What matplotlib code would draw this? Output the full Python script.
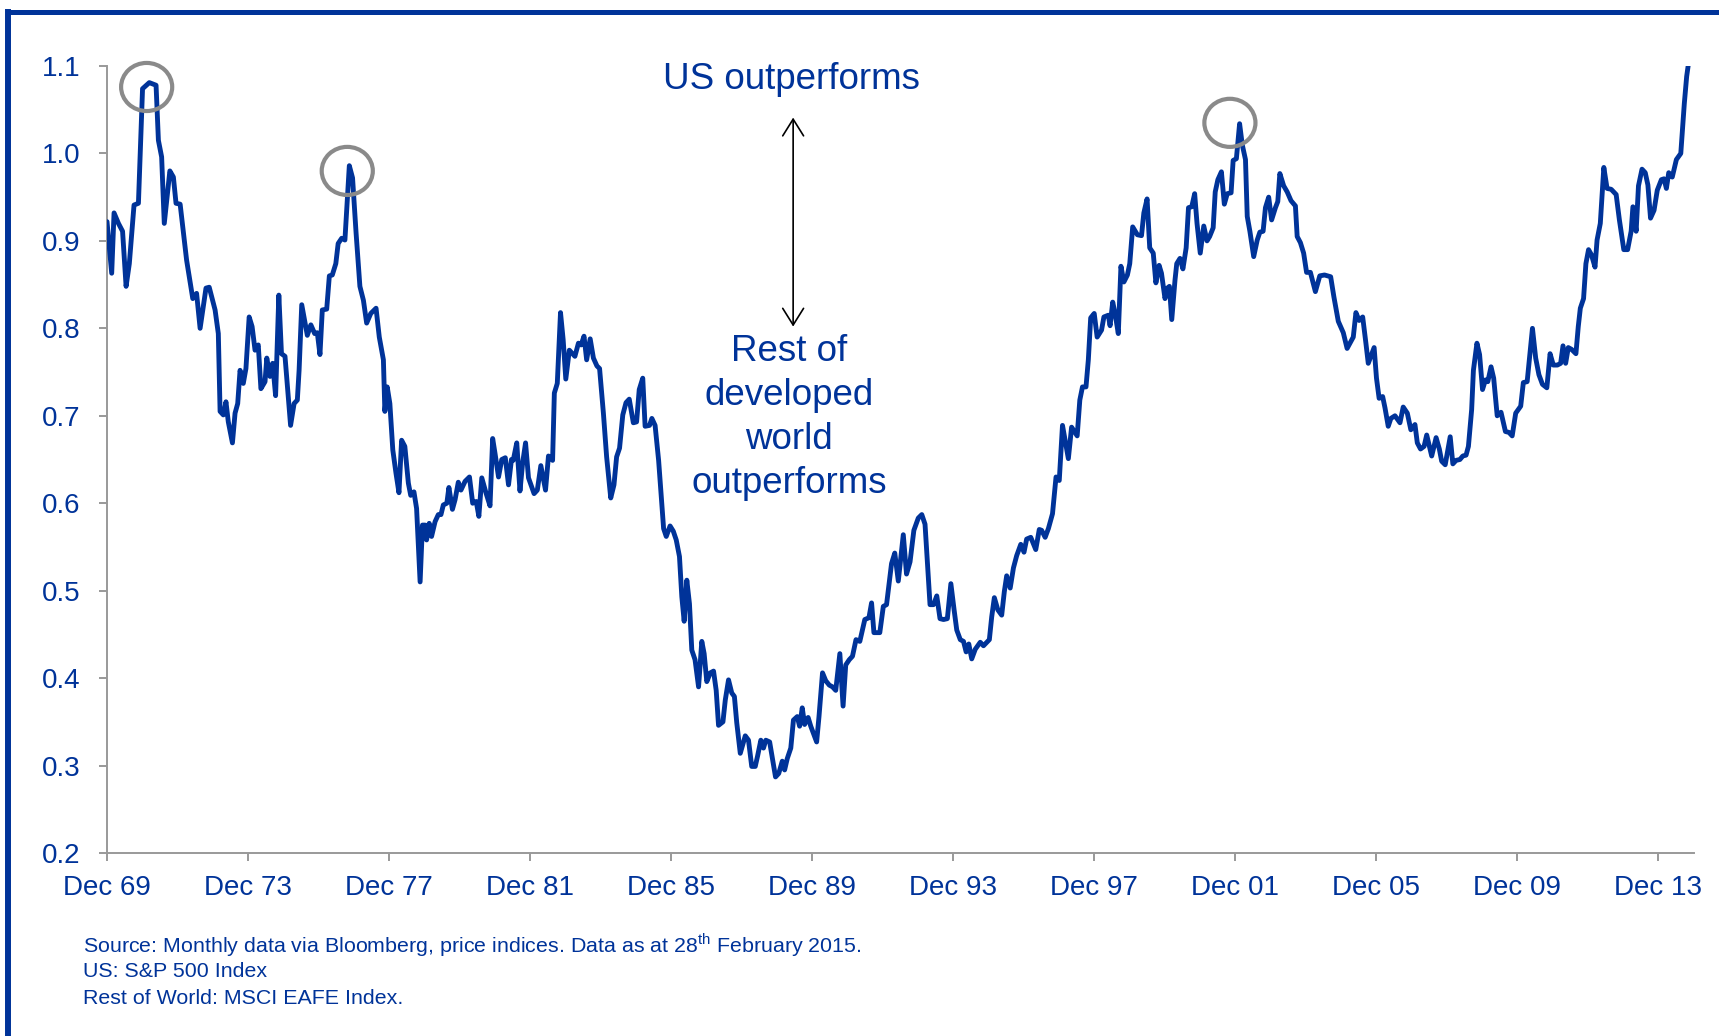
"""
US vs rest of developed world - relative price performance, monthly
"""

import matplotlib
matplotlib.use("Agg")
import matplotlib.pyplot as plt
from matplotlib.lines import Line2D
from matplotlib.patches import Ellipse

# months since Dec 1969
months = [
    0, 1.6, 2.4, 3.9, 5.3, 6.5, 7.6, 9.2, 10.7, 12.1, 14.4, 16.7, 17.5, 18.6,
    19.5, 21.4, 22.6, 23.5, 24.9, 27.1, 29.2, 30.5, 31.7, 33.7, 34.8, 36.8,
    37.9, 38.5, 39.6, 40.5, 41.3, 42.7, 43.6, 44.5, 45.3, 46.4, 47.3, 48.4,
    49.4, 50.4, 51.5, 52.4, 53.8, 54.4, 55.5, 56.4, 57.4, 58.5, 59.4, 60.6,
    62.5, 63.7, 64.8, 65.4, 66.3, 68.2, 69.4, 70.7, 71.6, 72.5, 73.3, 74.8,
    75.7, 76.7, 77.9, 78.7, 79.9, 81.0, 82.5, 83.6, 84.8, 86.1, 87.3, 88.4,
    89.8, 91.6, 92.7,
    94.1, 94.6, 95.4, 96.3, 97.3, 98.4, 99.4, 100.3, 101.4, 102.6, 103.4,
    104.5, 105.4, 106.6, 107.4, 108.3, 108.8, 109.7, 110.5, 111.7, 112.8,
    113.7, 114.5, 115.7, 116.4, 117.6, 118.5, 119.6, 120.5, 121.9, 123.4,
    124.5, 125.7, 126.6, 127.6, 129.1, 130.4, 131.3, 132.1, 133.3, 134.4,
    135.6, 136.7, 137.7, 138.3, 139.5, 140.6, 141.5, 142.5, 143.5, 145.4,
    146.5, 147.7, 149.3, 150.3, 151.7, 152.3, 153.3, 154.4, 155.3, 156.2,
    157.4, 159.3, 160.5, 161.4, 162.4, 163.3, 164.5, 165.6, 166.8, 167.7,
    169.0, 170.1, 171.5, 172.6, 173.5, 174.5, 175.6, 176.7, 177.8, 179.2,
    180.3, 181.2, 182.4, 183.2, 184.7, 185.5, 186.6, 187.8, 188.7, 189.5,
    190.4, 191.7, 192.8, 193.8, 194.9, 195.7, 196.5, 197.4, 198.3, 199.1,
    200.2, 201.4, 202.5, 203.3, 204.2, 205.4, 206.5, 207.4, 208.2, 209.7,
    210.5, 211.6, 212.7, 213.6, 214.4, 215.6, 217.3, 218.4, 219.5, 220.7,
    221.5, 222.6, 223.5, 224.3, 225.6, 226.4, 227.6, 228.7, 229.9, 230.7,
    231.6, 232.8, 233.7, 235.0, 235.8, 236.7, 237.5, 238.7, 239.6, 241.6,
    242.4, 243.6, 244.7, 245.9, 247.0, 248.1, 249.5, 250.6, 251.5, 252.7,
    253.8,
    255.0, 256.3, 258.0, 259.4, 260.3, 261.1, 263.1, 264.3, 265.4, 267.1,
    268.2, 269.4, 271.1, 272.2, 273.4, 274.7, 276.2, 277.4, 278.5, 280.2,
    281.4, 282.5, 283.6, 284.8, 286.1, 287.3, 288.4, 289.3, 290.5, 291.6,
    292.5, 293.4, 294.4, 295.6, 297.3, 298.4, 300.4, 301.2, 302.1, 303.3,
    304.6, 305.5, 306.3, 307.5, 308.6, 309.7, 311.1, 312.2, 313.1, 314.5,
    316.2, 317.4, 318.2, 319.4, 320.5,
    321.9, 323.1, 324.2, 325.3, 327.3, 328.4, 330.3, 331.2, 332.1, 333.3,
    334.1, 334.9, 336.1, 337.1, 338.6, 339.4, 340.9, 341.5, 342.4, 343.2,
    344.3, 345.2, 346.2, 347.4, 348.2, 349.2, 350.8, 352.2, 353.0, 354.1,
    355.0, 356.2, 357.1, 358.2, 359.0, 360.2, 361.0, 361.7, 362.5, 363.6,
    364.2, 365.3, 366.3, 367.4, 368.2, 369.3, 370.3, 371.1, 372.2, 373.4,
    374.5, 375.4, 376.6, 377.3, 378.2, 379.4, 380.4, 381.4, 382.7, 383.4,
    384.5, 385.6, 386.5, 387.6, 388.2, 389.1, 390.4, 391.6, 392.5, 393.6,
    394.4, 395.5, 396.5, 397.8, 398.6, 399.3, 400.6, 401.8, 403.1, 404.6,
    405.2, 406.3, 407.4, 408.4, 409.7, 411.4, 412.9, 414.5, 416.6,
    417.7, 419.2, 420.9, 422.2, 424.3, 425.2, 426.3, 427.5, 428.6, 429.4,
    430.3, 431.4, 432.2, 433.1, 434.3, 435.1, 436.2, 437.1, 438.5, 440.2,
    441.3, 442.7, 443.9, 445.3, 446.1, 447.2, 448.4, 449.3, 450.2, 451.0,
    452.5, 453.6, 454.4, 455.6, 457.3, 458.2, 459.3, 460.6, 461.6, 462.7,
    463.5, 464.6, 465.2, 466.4, 467.3, 468.3, 469.3, 470.1, 471.2, 472.1,
    473.3, 474.6, 476.1, 477.3, 478.4, 479.6, 481.3, 482.2, 483.5, 485.3,
    486.4, 487.5, 488.7, 490.2, 491.3, 492.4, 493.8, 494.9, 495.7, 496.6,
    497.5, 498.6, 500.1, 500.9, 501.6, 502.7, 503.5, 504.4, 505.4, 506.6,
    507.3, 508.4, 509.6, 510.7, 512.1, 513.8, 514.9, 516.4, 517.7, 518.9,
    519.5, 520.6, 521.4, 522.6, 523.7, 524.6, 525.5, 526.7, 527.8, 529.2,
    530.1, 530.9, 531.7, 532.9, 534.3, 535.8, 537.0, 537.8, 538.3,
]

# US / rest of developed world price ratio
ratio = [
    0.922, 0.863, 0.932, 0.920, 0.911, 0.848, 0.874, 0.941, 0.943, 1.074,
    1.081, 1.078, 1.015, 0.996, 0.920, 0.980, 0.973, 0.943, 0.942, 0.878,
    0.834, 0.840, 0.800, 0.846, 0.847, 0.821, 0.794, 0.705, 0.701, 0.716,
    0.693, 0.669, 0.703, 0.714, 0.752, 0.737, 0.754, 0.813, 0.802, 0.775,
    0.781, 0.731, 0.739, 0.766, 0.745, 0.760, 0.723, 0.838, 0.771, 0.768,
    0.689, 0.714, 0.718, 0.752, 0.827, 0.792, 0.804, 0.794, 0.795, 0.770,
    0.821, 0.822, 0.860, 0.861, 0.874, 0.897, 0.903, 0.901, 0.986, 0.972,
    0.909, 0.848, 0.832, 0.806, 0.817, 0.823, 0.790,
    0.764, 0.705, 0.733, 0.714, 0.661, 0.634, 0.612, 0.672, 0.665, 0.623,
    0.609, 0.613, 0.594, 0.510, 0.575, 0.575, 0.558, 0.577, 0.562, 0.579,
    0.587, 0.587, 0.598, 0.600, 0.618, 0.593, 0.604, 0.624, 0.615, 0.625,
    0.630, 0.600, 0.602, 0.585, 0.629, 0.611, 0.597, 0.674, 0.657, 0.630,
    0.650, 0.652, 0.621, 0.650, 0.649, 0.669, 0.614, 0.646, 0.669, 0.629,
    0.611, 0.615, 0.643, 0.615, 0.654, 0.649, 0.726, 0.737, 0.818, 0.787,
    0.742, 0.775, 0.768, 0.783, 0.781, 0.791, 0.764, 0.788, 0.766, 0.757,
    0.754,
    0.703, 0.653, 0.606, 0.621, 0.653, 0.663, 0.701, 0.715, 0.719, 0.692,
    0.693, 0.730, 0.743, 0.688, 0.689, 0.697, 0.689, 0.649, 0.608, 0.571,
    0.562, 0.574, 0.568, 0.558, 0.539, 0.493, 0.465, 0.512, 0.485, 0.432,
    0.421, 0.390, 0.442, 0.428, 0.396, 0.406, 0.408, 0.386, 0.346, 0.350,
    0.375, 0.398, 0.383, 0.379, 0.349, 0.314, 0.334, 0.329, 0.299, 0.299,
    0.311, 0.329, 0.320, 0.329, 0.327, 0.311, 0.287, 0.291, 0.305, 0.295,
    0.308, 0.320, 0.352, 0.356, 0.345, 0.366, 0.347, 0.355, 0.345, 0.327,
    0.356, 0.406, 0.397, 0.392, 0.390, 0.386, 0.428, 0.368, 0.415, 0.421,
    0.425,
    0.444, 0.442, 0.467, 0.469, 0.486, 0.452, 0.452, 0.482, 0.484, 0.531,
    0.543, 0.511, 0.564, 0.519, 0.533, 0.569, 0.583, 0.587, 0.576, 0.484,
    0.484, 0.494, 0.468, 0.467, 0.468, 0.508, 0.478, 0.455, 0.444, 0.442,
    0.430, 0.439, 0.422, 0.433, 0.441, 0.437, 0.444, 0.470, 0.492, 0.478,
    0.472, 0.499, 0.517, 0.503, 0.526, 0.540, 0.553, 0.544, 0.559, 0.561,
    0.547, 0.570, 0.569, 0.561, 0.571,
    0.588, 0.630, 0.626, 0.689, 0.651, 0.687, 0.677, 0.718, 0.733, 0.733,
    0.764, 0.812, 0.817, 0.790, 0.798, 0.813, 0.815, 0.803, 0.830, 0.817,
    0.794, 0.871, 0.853, 0.861, 0.874, 0.916, 0.907, 0.906, 0.932, 0.948,
    0.892, 0.886, 0.852, 0.872, 0.863, 0.834, 0.846, 0.848, 0.810, 0.855,
    0.874, 0.880, 0.868, 0.892, 0.938, 0.939, 0.954, 0.920, 0.886, 0.917,
    0.900, 0.905, 0.915, 0.956, 0.970, 0.979, 0.942, 0.954, 0.955, 0.992,
    0.994, 1.034, 1.010, 0.993, 0.928, 0.911, 0.882, 0.901, 0.910, 0.911,
    0.938, 0.950, 0.924, 0.938, 0.945, 0.977, 0.963, 0.956, 0.946, 0.940,
    0.905, 0.898, 0.886, 0.864, 0.864, 0.842, 0.860, 0.861, 0.859,
    0.836, 0.808, 0.795, 0.777, 0.790, 0.818, 0.809, 0.813, 0.783, 0.760,
    0.768, 0.778, 0.743, 0.720, 0.722, 0.709, 0.688, 0.697, 0.700, 0.692,
    0.710, 0.703, 0.684, 0.690, 0.669, 0.662, 0.665, 0.678, 0.665, 0.654,
    0.675, 0.662, 0.648, 0.644, 0.676, 0.645, 0.649, 0.650, 0.654, 0.655,
    0.665, 0.707, 0.752, 0.783, 0.770, 0.730, 0.741, 0.739, 0.756, 0.743,
    0.700, 0.704, 0.682, 0.681, 0.677, 0.703, 0.711, 0.738, 0.739, 0.800,
    0.766, 0.747, 0.736, 0.732, 0.771, 0.758, 0.758, 0.760, 0.780, 0.760,
    0.778, 0.776, 0.771, 0.802, 0.823, 0.834, 0.874, 0.890, 0.884, 0.870,
    0.901, 0.920, 0.984, 0.960, 0.959, 0.953, 0.924, 0.890, 0.890, 0.911,
    0.939, 0.911, 0.963, 0.982, 0.978, 0.964, 0.926, 0.935, 0.958, 0.970,
    0.971, 0.960, 0.978, 0.973, 0.993, 1.000, 1.057, 1.088, 1.100,
]

tick_months = [0, 48, 96, 144, 192, 240, 288, 336, 384, 432, 480, 528]
tick_labels = ["Dec 69", "Dec 73", "Dec 77", "Dec 81", "Dec 85", "Dec 89",
               "Dec 93", "Dec 97", "Dec 01", "Dec 05", "Dec 09", "Dec 13"]
y_ticks = [0.2, 0.3, 0.4, 0.5, 0.6, 0.7, 0.8, 0.9, 1.0, 1.1]

# the three circled peaks
peak_months = [13.5, 81.8, 382.3]
peak_values = [1.076, 0.980, 1.035]

footnotes = [
    r"Source: Monthly data via Bloomberg, price indices. Data as at "
    r"28$^{\mathrm{th}}$ February 2015.",
    "US: S&P 500 Index",
    "Rest of World: MSCI EAFE Index.",
]

BLUE = "#003399"
GREY = "#8a8a8a"

plt.rcParams['font.family'] = ['Liberation Sans', 'DejaVu Sans']
plt.rcParams['mathtext.fontset'] = 'custom'
plt.rcParams['mathtext.rm'] = 'Liberation Sans'

W, H = 1719, 1036
fig = plt.figure(figsize=(W / 100, H / 100), dpi=100)
ax = fig.add_axes([107 / W, 1 - 853 / H, (1694 - 107) / W, (853 - 66) / H])

ax.plot(months, ratio, color=BLUE, lw=3.5, solid_joinstyle='round',
        solid_capstyle='round', zorder=3)

ax.set_xlim(0, 540.3)
ax.set_ylim(0.2, 1.1)
ax.set_xticks(tick_months)
ax.set_xticklabels(tick_labels)
ax.set_yticks(y_ticks)
ax.set_yticklabels([f"{v:.1f}" for v in y_ticks])
ax.tick_params(axis='both', colors='#999999', labelcolor=BLUE, labelsize=20,
               length=6, width=1.4, direction='out')
ax.tick_params(axis='y', pad=13)
ax.tick_params(axis='x', pad=10)
for side in ('top', 'right'):
    ax.spines[side].set_visible(False)
for side in ('left', 'bottom'):
    ax.spines[side].set_color('#999999')
    ax.spines[side].set_linewidth(1.4)

# grey rings around the peaks
for m, v in zip(peak_months, peak_values):
    ax.add_patch(Ellipse((m, v), width=17.4, height=0.055, fill=False,
                         edgecolor=GREY, lw=3.0, clip_on=False, zorder=4))

# annotation: arrow and labels
ax.annotate("", xy=(233.6, 1.041), xytext=(233.6, 0.802),
            arrowprops=dict(arrowstyle='<->,head_length=0.4,head_width=0.25',
                            color='black', lw=1.2, mutation_scale=30,
                            shrinkA=0, shrinkB=0))
ax.text(233.0, 1.084, "US outperforms", ha='center', va='center',
        fontsize=26.5, color=BLUE)
ax.text(232.2, 0.698, "Rest of\ndeveloped\nworld\noutperforms",
        ha='center', va='center', multialignment='center', fontsize=26.5,
        color=BLUE, linespacing=1.33)

# footnotes
for i, line in enumerate(footnotes):
    fig.text(83 / W, 1 - (945 + 26.5 * i) / H, line, ha='left', va='center',
             fontsize=15.4, color=BLUE)

# blue frame, left and top edges only
fig.add_artist(Line2D([8 / W, 8 / W], [0, 1 - 11.5 / H],
                      transform=fig.transFigure, color=BLUE, lw=4.3))
fig.add_artist(Line2D([8 / W, 1], [1 - 11.5 / H, 1 - 11.5 / H],
                      transform=fig.transFigure, color=BLUE, lw=3.6))

fig.savefig("out.png", dpi=100)
plt.close('all')
